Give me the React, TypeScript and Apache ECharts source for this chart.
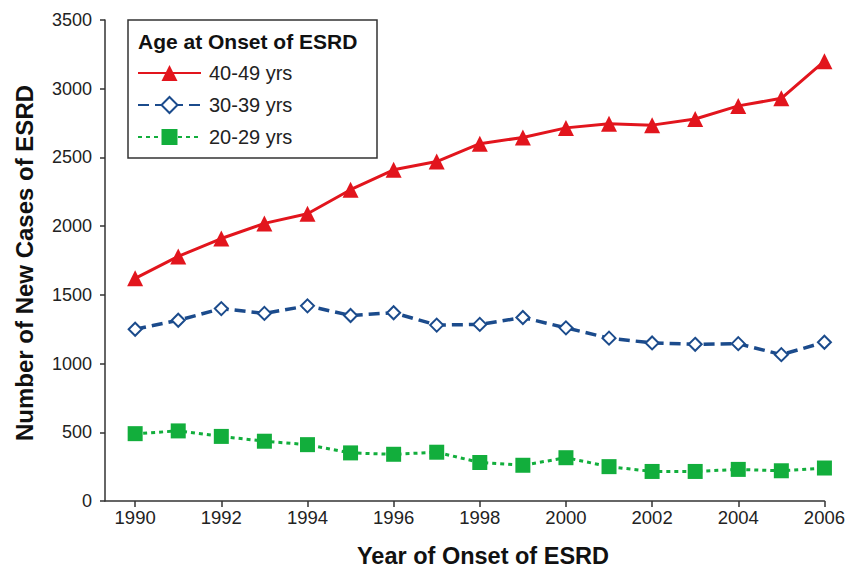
import React, { useEffect, useRef } from "react";
import * as echarts from "echarts";

const years = [1990, 1991, 1992, 1993, 1994, 1995, 1996, 1997, 1998, 1999, 2000, 2001, 2002, 2003, 2004, 2005, 2006];
const age40to49 = [1620, 1780, 1910, 2020, 2090, 2265, 2410, 2470, 2600, 2645, 2715, 2745, 2735, 2780, 2875, 2930, 3200];
const age30to39 = [1250, 1315, 1400, 1365, 1420, 1350, 1370, 1280, 1285, 1335, 1260, 1185, 1150, 1140, 1145, 1065, 1155];
const age20to29 = [490, 510, 470, 435, 410, 350, 340, 355, 280, 260, 315, 250, 215, 215, 230, 220, 240];
const xTickYears = [1990, 1992, 1994, 1996, 1998, 2000, 2002, 2004, 2006];
const seriesNames = ["40-49 yrs", "30-39 yrs", "20-29 yrs"];

const FONT = "'Liberation Sans', Arial, Helvetica, sans-serif";
const RED = "#e2151d";
const BLUE = "#1b4b8c";
const GREEN = "#12ae3c";

export default function App() {
  const ref = useRef<HTMLDivElement>(null);
  useEffect(() => {
    if (!ref.current) return;
    const chart = echarts.init(ref.current, null, { renderer: "svg" });
    const pairs = (vals: number[]) => years.map((y, i) => [y, vals[i]]);
    chart.setOption({
      animation: false,
      backgroundColor: "#ffffff",
      grid: { left: 105, right: 22, top: 20, bottom: 69, containLabel: false },
      xAxis: {
        type: "value",
        min: 1989.3,
        max: 2006,
        splitLine: { show: false },
        axisLine: { show: true, lineStyle: { color: "#333", width: 1.5 } },
        axisTick: { show: true, customValues: xTickYears, length: 6, lineStyle: { color: "#333", width: 1.5 } },
        axisLabel: {
          customValues: xTickYears,
          color: "#222",
          fontSize: 18.5,
          fontFamily: FONT,
          margin: 7,
          formatter: (v: number) => String(v),
        },
      },
      yAxis: {
        type: "value",
        min: 0,
        max: 3500,
        interval: 500,
        splitLine: { show: false },
        axisLine: { show: true, lineStyle: { color: "#333", width: 1.5 } },
        axisTick: { show: true, length: 5, lineStyle: { color: "#333", width: 1.5 } },
        axisLabel: {
          color: "#222",
          fontSize: 18,
          fontFamily: FONT,
          margin: 13,
          formatter: (v: number) => String(v),
        },
      },
      legend: {
        data: seriesNames,
        orient: "vertical",
        left: 137,
        top: 63,
        padding: 0,
        itemWidth: 63,
        itemHeight: 20,
        itemGap: 12,
        textStyle: { fontSize: 20, fontFamily: FONT, color: "#222", lineHeight: 20, padding: [0, 0, 0, 3] },
      },
      graphic: [
        {
          type: "rect",
          z: 0,
          shape: { x: 128, y: 20, width: 249, height: 138 },
          style: { fill: "#fff", stroke: "#333", lineWidth: 1.5 },
        },
        {
          type: "text",
          z: 5,
          x: 138,
          y: 41,
          style: {
            text: "Age at Onset of ESRD",
            font: `bold 21px ${FONT}`,
            fill: "#111",
            verticalAlign: "middle",
            textAlign: "left",
          },
        },
        {
          type: "text",
          x: 483,
          y: 556,
          style: {
            text: "Year of Onset of ESRD",
            font: `bold 23.5px ${FONT}`,
            fill: "#111",
            textAlign: "center",
            verticalAlign: "middle",
          },
        },
        {
          type: "text",
          x: 24,
          y: 263,
          rotation: Math.PI / 2,
          style: {
            text: "Number of New Cases of ESRD",
            font: `bold 24px ${FONT}`,
            fill: "#111",
            textAlign: "center",
            verticalAlign: "middle",
          },
        },
      ],
      series: [
        {
          name: seriesNames[0],
          type: "line",
          data: pairs(age40to49),
          symbol: "triangle",
          symbolSize: 16,
          lineStyle: { color: RED, width: 3 },
          itemStyle: { color: RED },
          z: 3,
        },
        {
          name: seriesNames[1],
          type: "line",
          data: pairs(age30to39),
          symbol: "diamond",
          symbolSize: 13,
          lineStyle: { color: BLUE, width: 3.5, type: [11, 6] },
          itemStyle: { color: "#fff", borderColor: BLUE, borderWidth: 2 },
          z: 3,
        },
        {
          name: seriesNames[2],
          type: "line",
          data: pairs(age20to29),
          symbol: "rect",
          symbolSize: 15,
          lineStyle: { color: GREEN, width: 3, type: [4, 4] },
          itemStyle: { color: GREEN },
          z: 3,
        },
      ],
    });
    return () => chart.dispose();
  }, []);
  return <div ref={ref} style={{ position: "fixed", left: 0, top: 0, width: 848, height: 570 }} />;
}
